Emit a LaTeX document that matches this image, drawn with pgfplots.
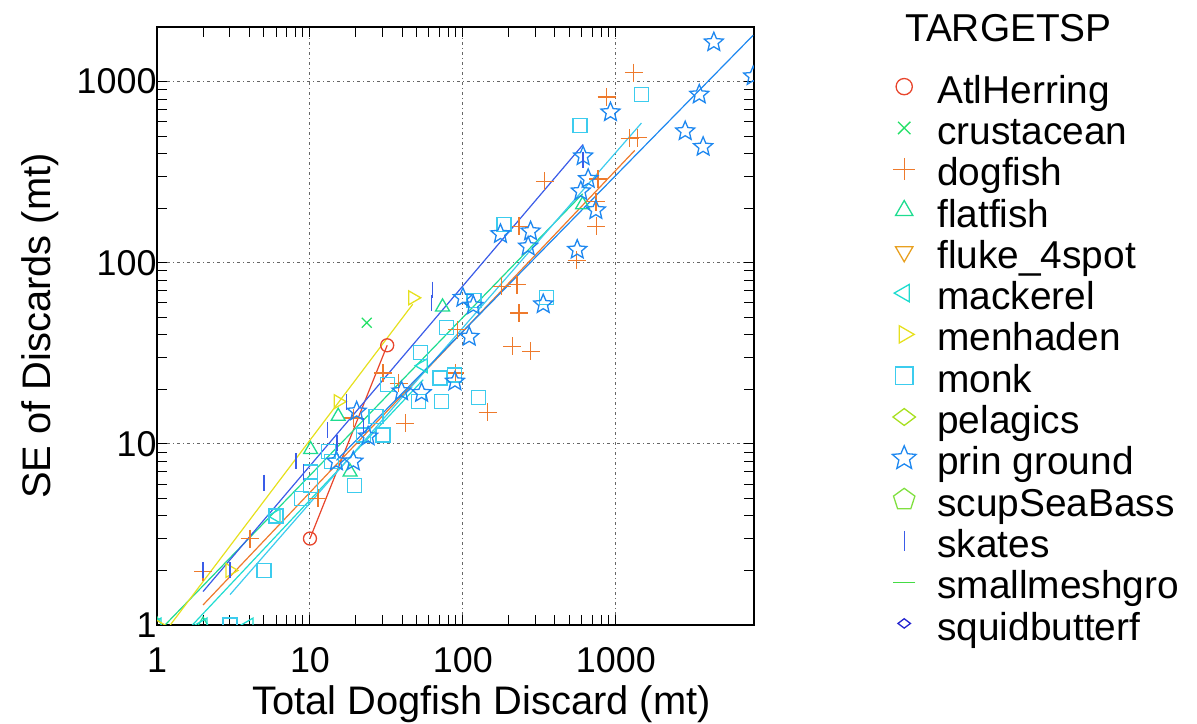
\documentclass[border=0pt]{standalone}
\usepackage{pgfplots}
\pgfplotsset{compat=1.18}
\usepackage{fontspec}
\setmainfont{Liberation Sans}
\usetikzlibrary{plotmarks}

\pgfdeclareplotmark{pstar}{%
  \pgfpathmoveto{\pgfpointpolar{90}{\pgfplotmarksize}}%
  \pgfpathlineto{\pgfpointpolar{126}{0.45\pgfplotmarksize}}%
  \pgfpathlineto{\pgfpointpolar{162}{\pgfplotmarksize}}%
  \pgfpathlineto{\pgfpointpolar{198}{0.45\pgfplotmarksize}}%
  \pgfpathlineto{\pgfpointpolar{234}{\pgfplotmarksize}}%
  \pgfpathlineto{\pgfpointpolar{270}{0.45\pgfplotmarksize}}%
  \pgfpathlineto{\pgfpointpolar{306}{\pgfplotmarksize}}%
  \pgfpathlineto{\pgfpointpolar{342}{0.45\pgfplotmarksize}}%
  \pgfpathlineto{\pgfpointpolar{18}{\pgfplotmarksize}}%
  \pgfpathlineto{\pgfpointpolar{54}{0.45\pgfplotmarksize}}%
  \pgfpathclose
  \pgfusepathqstroke}

\definecolor{cHer}{HTML}{E8452C}
\definecolor{cCru}{HTML}{22E066}
\definecolor{cDog}{HTML}{EE7A2C}
\definecolor{cFla}{HTML}{1EDC90}
\definecolor{cFlu}{HTML}{E8A020}
\definecolor{cMac}{HTML}{1EDCD0}
\definecolor{cMen}{HTML}{E6E01E}
\definecolor{cMon}{HTML}{3CCCEE}
\definecolor{cPel}{HTML}{A8E020}
\definecolor{cPri}{HTML}{1E88F0}
\definecolor{cScu}{HTML}{80E040}
\definecolor{cSka}{HTML}{3A5CE8}
\definecolor{cSma}{HTML}{44DC44}
\definecolor{cSqu}{HTML}{2424D0}

\newcommand\ls{\rule[-6.7bp]{0pt}{41.4bp}}

\pgfplotsset{
  myleg/.style={legend image code/.code={\path[draw=none,fill=none] (-13bp,-13bp) rectangle (13bp,13bp); \draw[##1, every mark/.append style={scale=1.25}] plot coordinates {(0bp,0bp)};}},
  pts/.style={only marks, mark options={line width=1.3bp, fill=none}, myleg},
  fit/.style={no marks, line width=1.2bp, forget plot},
}

\begin{document}
\begin{tikzpicture}
\useasboundingbox (0,0) rectangle (1197bp,724bp);
\begin{axis}[
  at={(157bp,99bp)}, anchor=south west,
  scale only axis, width=597bp, height=598bp,
  xmode=log, ymode=log, xmin=1, xmax=8000, ymin=1, ymax=2000,
  xtick={1,10,100,1000}, xticklabels={1,10,100,1000},
  ytick={1,10,100,1000}, yticklabels={1,10,100,1000},
  tick pos=both, tick align=inside,
  major tick length=10bp, minor tick length=10bp,
  every tick/.style={black, line width=1bp},
  axis line style={line width=1.6bp},
  grid=major,
  major grid style={line width=1bp, black!60, dash pattern=on 3bp off 3bp on 1bp off 3bp},
  tick label style={font=\fontsize{36}{36}\selectfont},
  xticklabel style={yshift=-19bp},
  yticklabel style={xshift=3bp},
  /pgf/number format/assume math mode=true,
  xlabel={Total Dogfish Discard (mt)}, ylabel={SE of Discards (mt)},
  label style={font=\fontsize{40}{40}\selectfont},
  xlabel style={at={(axis description cs:0.5436,-0.150)}, anchor=base},
  ylabel style={at={(axis description cs:-0.196,0.5)}, anchor=center},
  clip marker paths=true,
  legend cell align=left,
  legend style={at={(axis description cs:1.2295,0.9309)}, anchor=north west,
    draw=none, fill=none, inner xsep=0pt, inner ysep=0pt,
    nodes={inner sep=0pt}, column sep=20bp, row sep=5.1bp,
    font=\fontsize{39}{39}\selectfont},
]
% fitted lines
\addplot[fit, cHer] coordinates {(10,3) (32,35)};
\addplot[fit, cDog] coordinates {(2,1.29) (1330,417)};
\addplot[fit, cFla] coordinates {(1,0.9) (606,240)};
\addplot[fit, cMac] coordinates {(1,0.62) (55,22.6)};
\addplot[fit, cMen] coordinates {(1,0.80) (47,59)};
\addplot[fit, cMon] coordinates {(3,1.47) (1470,590)};
\addplot[fit, cPri] coordinates {(14.9,8.1) (7900,1800)};
\addplot[fit, cSka] coordinates {(2,1.53) (611,449)};

% AtlHerring
\addplot[pts, cHer, mark=o, mark size=6.5bp] coordinates {(10,3) (32,35)};
\addlegendentry{\ls AtlHerring}
% crustacean
\addplot[pts, cCru, mark=x, mark size=7bp] coordinates {(23.5,46.6)};
\addlegendentry{\ls crustacean}
% dogfish
\addplot[pts, cDog, mark=+, mark size=9bp] coordinates {
(2,1.97) (4.05,3.0) (11.3,5.0) (19.2,13.9) (30,24.6) (38,21.6) (42,13)
(92,42.6) (89,24.6) (145,14.9) (179,74) (210,34.5) (226,75.6) (233,52.7)
(233,159) (278,32.4) (343,281) (553,103) (740,217) (747,159) (766,290)
(870,820) (1230,485) (1390,490) (1310,1120)};
\addlegendentry{\ls dogfish}
% flatfish
\addplot[pts, cFla, mark=triangle, mark size=8bp] coordinates {
(1,1) (2,1) (10.1,9.3) (15.3,14.2) (18.3,7) (73.6,57) (606,209)};
\addlegendentry{\ls flatfish}
% fluke_4spot
\addlegendimage{pts, cFlu, mark=triangle, mark size=8bp, mark options={line width=1.3bp, fill=none, rotate=180}}
\addlegendentry{\ls fluke\_4spot}
% mackerel
\addplot[pts, cMac, mark=triangle, mark size=8bp, mark options={line width=1.3bp, fill=none, rotate=90}] coordinates {
(1,1) (2,1) (4,1) (6,4) (55,27)};
\addlegendentry{\ls mackerel}
% menhaden
\addplot[pts, cMen, mark=triangle, mark size=8bp, mark options={line width=1.3bp, fill=none, rotate=-90}] coordinates {
(1,1) (3,2) (15.3,17.1) (47,64)};
\addlegendentry{\ls menhaden}
% monk
\addplot[pts, cMon, mark=square, mark size=7bp] coordinates {
(3,1) (5,2) (6,4) (8.8,5) (10.1,5.9) (10.1,7) (13.2,9.1) (13.8,8) (19.5,5.9)
(22.3,11.2) (27,14.2) (30,11.2) (32,21.2) (51.5,17.1) (53,32) (70.8,23.1)
(72.5,17.1) (78,44) (88,24) (118,62) (126,18) (186,162) (352,64) (582,571) (1470,848)};
\addlegendentry{\ls monk}
% pelagics
\addlegendimage{pts, cPel, mark=diamond, mark size=9bp, mark options={line width=1.3bp, fill=none, rotate=90}}
\addlegendentry{\ls pelagics}
% prin ground
\addplot[pts, cPri, mark=pstar, mark size=10bp] coordinates {
(14.9,8.0) (19.2,8.0) (20.2,15.1) (24,11) (39.7,19.5) (53.7,19.1) (88.7,22.1)
(100,64) (117,58) (110,39) (176,144) (277,149) (267,123) (335,59) (559,118)
(590,248) (611,387) (659,290) (740,195) (922,677) (2840,532) (3720,436)
(3510,848) (4370,1648) (7900,1070)};
\addlegendentry{\ls prin ground}
% scupSeaBass
\addlegendimage{pts, cScu, mark=pentagon, mark size=9bp}
\addlegendentry{\ls scupSeaBass}
% skates
\addplot[pts, cSka, mark=|, mark size=8bp] coordinates {
(2,2) (3,2) (5,6.1) (8.1,8.0) (9.1,7.0) (13,11.9) (15,10.1) (17.4,17.1)
(22.3,12.5) (63,71) (62,60) (611,371)};
\addlegendentry{\ls skates}
% smallmeshgro
\addlegendimage{pts, cSma, mark=-, mark size=9bp}
\addlegendentry{\ls smallmeshgro}
% squidbutterf
\addlegendimage{pts, cSqu, mark=diamond, mark size=5bp, mark options={line width=1.3bp, fill=none, rotate=90}}
\addlegendentry{\ls squidbutterf}
\end{axis}
\node[anchor=base west, inner sep=0pt, font=\fontsize{39}{39}\selectfont] at (905bp,682bp) {TARGETSP};
\end{tikzpicture}
\end{document}
